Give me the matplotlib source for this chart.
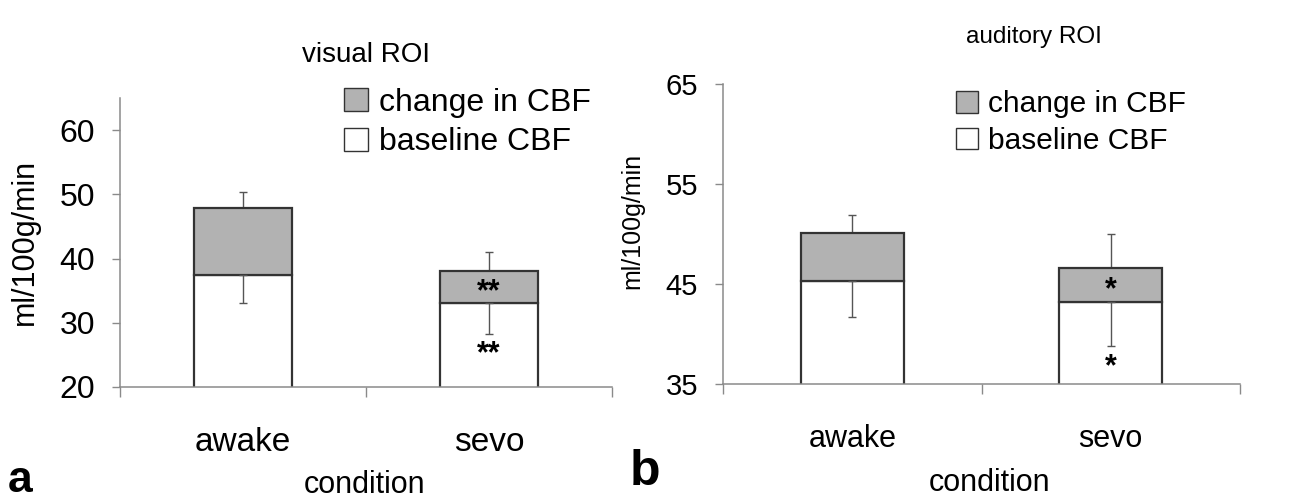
import matplotlib
matplotlib.use("Agg")
import matplotlib.pyplot as plt
import matplotlib.transforms as mtransforms
from matplotlib.patches import Patch

plt.rcParams['font.family'] = ['Liberation Sans', 'DejaVu Sans']

# ---- data ----
conditions = ["awake", "sevo"]

visual_baseline = [37.4, 33.1]
visual_total = [47.8, 38.0]
visual_baseline_err = [4.3, 4.8]
visual_total_err = [2.5, 3.0]
visual_stars = ["**", "**"]

auditory_baseline = [45.3, 43.2]
auditory_total = [50.1, 46.6]
auditory_baseline_err = [3.6, 4.4]
auditory_total_err = [1.8, 3.4]
auditory_stars = ["*", "*"]

visual_yticks = [20, 30, 40, 50, 60]
auditory_yticks = [35, 45, 55, 65]

GRAY = "#b2b2b2"
EDGE = "#333333"
AXC = "#8a8a8a"
ERRC = "#555555"

fig = plt.figure(figsize=(12.9, 5.0), dpi=100)

axA = fig.add_axes([120/1290, 1-387/500, 492/1290, 289/500])
axB = fig.add_axes([723/1290, 1-384/500, 517/1290, 300/500])


def panel(ax, baseline, total, berr, terr, stars, ylim, yticks, star_low_frac,
          tick_fs, xt_fs, leg_fs, leg_anchor):
    x = [1, 2]
    change = [t - b for t, b in zip(total, baseline)]
    ax.bar(x, baseline, width=0.4, color="white", edgecolor=EDGE, linewidth=1.6,
           zorder=2)
    ax.bar(x, change, bottom=baseline, width=0.4, color=GRAY, edgecolor=EDGE,
           linewidth=1.6, zorder=2)
    ax.errorbar(x, total, yerr=[[0, 0], terr], fmt="none", ecolor=ERRC,
                elinewidth=1.0, capsize=3, capthick=1.0, zorder=1)
    ax.errorbar(x, baseline, yerr=[berr, [0, 0]], fmt="none", ecolor=ERRC,
                elinewidth=1.0, capsize=3, capthick=1.0, zorder=3)
    star_tr = ax.transData + mtransforms.ScaledTranslation(0, -4/72,
                                                          fig.dpi_scale_trans)
    for xi, b, t, s in zip(x, baseline, total, stars):
        if xi == 2:
            ax.text(xi, (b + t) / 2, s, ha="center", va="center",
                    fontsize=22, fontweight="bold", zorder=4,
                    transform=star_tr)
            ax.text(xi, ylim[0] + (b - ylim[0]) * star_low_frac, s,
                    ha="center", va="center", fontsize=22, fontweight="bold",
                    zorder=4, transform=star_tr)
    ax.set_xlim(0.5, 2.5)
    ax.set_ylim(*ylim)
    ax.set_yticks(yticks)
    ax.set_xticks(x)
    ax.set_xticklabels(conditions, fontsize=xt_fs)
    ax.set_xticks([0.5, 1.5, 2.5], minor=True)
    ax.tick_params(axis="x", which="major", length=0, pad=29)
    ax.tick_params(axis="x", which="minor", length=7, width=1, color=AXC,
                   direction="out")
    ax.tick_params(axis="y", length=6, width=1, color=AXC, direction="out",
                   labelsize=tick_fs, pad=12)
    for s in ("top", "right"):
        ax.spines[s].set_visible(False)
    for s in ("left", "bottom"):
        ax.spines[s].set_color(AXC)
        ax.spines[s].set_linewidth(1.1)
    handles = [Patch(facecolor=GRAY, edgecolor=EDGE, linewidth=1.0,
                     label="change in CBF"),
               Patch(facecolor="white", edgecolor=EDGE, linewidth=1.0,
                     label="baseline CBF")]
    ax.legend(handles=handles, loc="upper left", bbox_to_anchor=leg_anchor,
              frameon=False, fontsize=leg_fs, handlelength=0.75,
              handleheight=0.75, handletextpad=0.35, labelspacing=0.3,
              borderaxespad=0, borderpad=0)


panel(axA, visual_baseline, visual_total, visual_baseline_err,
      visual_total_err, visual_stars, (20, 65), visual_yticks, 0.45, 23, 24,
      23, (0.455, 1.035))
panel(axB, auditory_baseline, auditory_total, auditory_baseline_err,
      auditory_total_err, auditory_stars, (35, 65), auditory_yticks, 0.27, 21,
      22, 21.5, (0.45, 0.98))

fig.text(366/1290, 1-55/500, "visual ROI", ha="center", va="center",
         fontsize=20)
fig.text(1034/1290, 1-37/500, "auditory ROI", ha="center", va="center",
         fontsize=17.5)
fig.text(25/1290, 1-242/500, "ml/100g/min", rotation=90, ha="center",
         va="center", fontsize=22)
fig.text(632/1290, 1-221/500, "ml/100g/min", rotation=90, ha="center",
         va="center", fontsize=18)
fig.text(365/1290, 1-485/500, "condition", ha="center", va="center",
         fontsize=22)
fig.text(990/1290, 1-483/500, "condition", ha="center", va="center",
         fontsize=22)
fig.text(20/1290, 1-480/500, "a", ha="center", va="center", fontsize=32,
         fontweight="bold")
fig.text(645/1290, 1-472/500, "b", ha="center", va="center", fontsize=36,
         fontweight="bold")

fig.savefig("out.png", dpi=100, facecolor="white")
